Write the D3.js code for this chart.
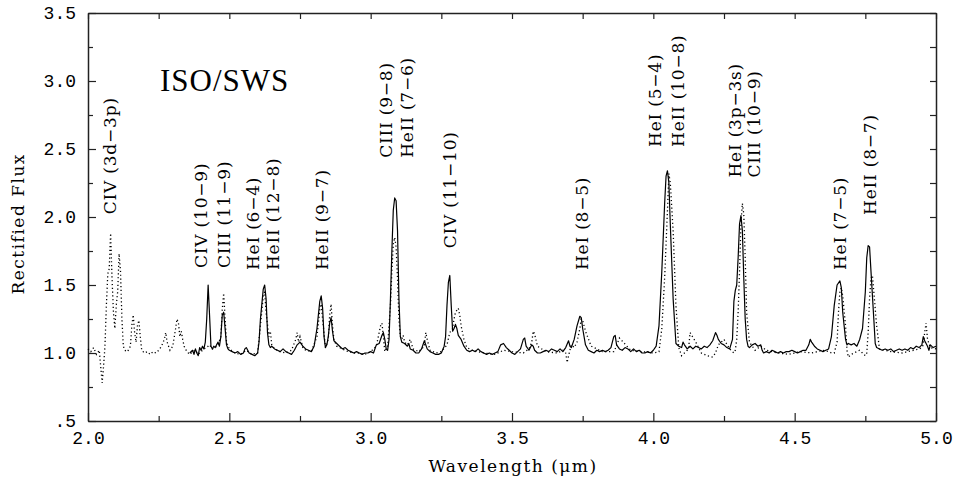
<!DOCTYPE html>
<html>
<head>
<meta charset="utf-8">
<script src="https://cdn.jsdelivr.net/npm/d3@7"></script>
<style>
  body { margin: 0; background: #fff; }
  .tick text { font-family: "Liberation Mono", monospace; }
</style>
</head>
<body>
<div id="my_dataviz"></div>
<script>
// solid spectrum (wavelength in micron, rectified flux)
const solidWave = [2.36,2.37,2.375,2.38,2.385,2.39,2.395,2.40,2.405,2.41,2.415,2.42,2.425,2.43,2.435,2.44,2.445,2.45,2.455,2.46,2.465,2.47,2.475,2.48,2.485,2.49,2.495,2.50,2.51,2.52,2.53,2.54,2.55,2.555,2.56,2.565,2.57,2.58,2.59,2.60,2.605,2.61,2.62,2.625,2.63,2.635,2.64,2.645,2.65,2.66,2.67,2.68,2.69,2.70,2.71,2.72,2.73,2.74,2.75,2.76,2.77,2.78,2.79,2.80,2.81,2.82,2.825,2.83,2.835,2.84,2.845,2.85,2.855,2.86,2.865,2.87,2.88,2.89,2.90,2.91,2.92,2.93,2.94,2.95,2.96,2.97,2.98,2.99,3.00,3.01,3.02,3.03,3.04,3.045,3.05,3.055,3.06,3.065,3.07,3.075,3.08,3.085,3.09,3.095,3.10,3.105,3.11,3.12,3.13,3.135,3.14,3.15,3.16,3.17,3.18,3.19,3.195,3.20,3.21,3.22,3.23,3.24,3.25,3.26,3.265,3.27,3.275,3.28,3.285,3.29,3.295,3.30,3.305,3.31,3.32,3.33,3.34,3.35,3.36,3.37,3.38,3.39,3.40,3.41,3.42,3.43,3.44,3.45,3.46,3.47,3.48,3.49,3.50,3.51,3.52,3.53,3.54,3.545,3.55,3.56,3.57,3.575,3.58,3.59,3.60,3.61,3.62,3.63,3.64,3.65,3.66,3.67,3.68,3.69,3.70,3.705,3.71,3.72,3.73,3.74,3.745,3.75,3.76,3.77,3.78,3.79,3.80,3.81,3.82,3.83,3.84,3.85,3.86,3.865,3.87,3.88,3.89,3.90,3.91,3.92,3.93,3.94,3.95,3.96,3.97,3.98,3.99,4.00,4.01,4.02,4.03,4.04,4.045,4.05,4.055,4.06,4.07,4.08,4.09,4.10,4.105,4.11,4.12,4.13,4.14,4.15,4.16,4.17,4.18,4.19,4.20,4.21,4.22,4.225,4.23,4.24,4.25,4.26,4.27,4.28,4.285,4.29,4.295,4.30,4.305,4.31,4.315,4.32,4.325,4.33,4.335,4.34,4.35,4.36,4.37,4.38,4.385,4.39,4.40,4.41,4.42,4.43,4.44,4.45,4.46,4.47,4.48,4.49,4.50,4.51,4.52,4.53,4.54,4.55,4.555,4.56,4.57,4.58,4.59,4.60,4.61,4.62,4.63,4.64,4.65,4.66,4.665,4.67,4.68,4.685,4.69,4.70,4.71,4.72,4.73,4.74,4.75,4.755,4.76,4.765,4.77,4.78,4.785,4.79,4.80,4.81,4.82,4.83,4.84,4.85,4.86,4.87,4.88,4.89,4.90,4.91,4.92,4.93,4.94,4.95,4.955,4.96,4.97,4.975,4.98,4.99,5.00];
const solidFlux = [1.00,1.02,0.99,1.03,1.00,0.98,1.04,1.02,1.05,1.03,1.08,1.25,1.50,1.28,1.05,1.03,1.05,1.04,1.06,1.08,1.05,1.12,1.28,1.30,1.18,1.06,1.03,1.02,1.01,1.00,1.01,0.99,1.00,1.03,1.04,1.02,1.00,0.99,0.98,1.00,1.08,1.25,1.47,1.50,1.40,1.15,1.06,1.04,1.05,1.03,1.02,1.01,1.03,1.01,1.00,0.99,1.02,1.06,1.08,1.05,1.03,1.02,1.01,1.05,1.18,1.38,1.42,1.33,1.12,1.04,1.06,1.12,1.22,1.26,1.16,1.09,1.07,1.05,1.03,1.04,1.02,1.01,1.00,1.01,1.00,0.99,1.00,1.00,1.01,1.00,1.06,1.07,1.13,1.15,1.10,1.03,1.02,1.10,1.40,1.75,2.05,2.14,2.12,1.90,1.40,1.12,1.08,1.07,1.05,1.07,1.03,1.02,1.00,1.00,1.03,1.09,1.06,1.03,1.01,1.00,0.99,0.99,1.00,1.05,1.12,1.35,1.52,1.57,1.35,1.16,1.18,1.21,1.18,1.13,1.10,1.05,1.02,1.01,1.02,1.01,1.03,1.01,1.00,0.99,1.00,0.99,1.00,1.01,1.06,1.07,1.04,1.02,1.00,0.99,1.01,1.03,1.10,1.11,1.05,1.02,1.06,1.05,1.02,1.00,1.00,1.01,1.02,1.01,1.03,1.02,1.01,1.03,1.01,1.04,1.09,1.05,1.04,1.10,1.20,1.27,1.26,1.18,1.06,1.02,1.01,1.00,1.02,1.01,1.02,1.01,1.02,1.04,1.12,1.13,1.06,1.03,1.02,1.04,1.03,1.01,1.03,1.01,1.02,1.00,1.00,1.01,1.00,1.02,1.05,1.20,1.60,2.10,2.30,2.34,2.25,1.95,1.40,1.07,1.05,1.04,1.08,1.06,1.03,1.05,1.03,1.05,1.04,1.03,1.05,1.04,1.06,1.09,1.15,1.13,1.10,1.07,1.06,1.04,1.03,1.10,1.38,1.46,1.50,1.70,1.95,2.01,1.90,1.55,1.25,1.10,1.05,1.04,1.06,1.07,1.05,1.06,1.02,1.00,1.01,1.00,1.02,1.01,1.00,1.01,1.00,1.01,1.01,1.02,1.01,1.00,1.01,1.02,1.02,1.06,1.10,1.08,1.05,1.03,1.02,1.01,1.02,1.03,1.12,1.35,1.50,1.53,1.48,1.30,1.10,1.06,1.07,1.06,1.07,1.05,1.10,1.18,1.45,1.70,1.79,1.78,1.60,1.25,1.07,1.04,1.03,1.02,1.03,1.02,1.03,1.01,1.02,1.03,1.02,1.03,1.02,1.04,1.03,1.05,1.04,1.06,1.12,1.09,1.05,1.02,1.06,1.04,1.05];

// dotted spectrum
const dottedWave = [2.00,2.01,2.02,2.03,2.04,2.045,2.05,2.055,2.06,2.065,2.07,2.075,2.08,2.085,2.09,2.095,2.10,2.105,2.11,2.115,2.12,2.125,2.13,2.14,2.15,2.155,2.16,2.165,2.17,2.175,2.18,2.185,2.19,2.20,2.21,2.22,2.23,2.24,2.25,2.26,2.27,2.275,2.28,2.29,2.30,2.31,2.315,2.32,2.325,2.33,2.335,2.34,2.35,2.36,2.37,2.38,2.39,2.40,2.41,2.42,2.43,2.44,2.45,2.46,2.47,2.475,2.48,2.485,2.49,2.50,2.52,2.54,2.56,2.58,2.60,2.61,2.62,2.625,2.63,2.64,2.645,2.65,2.66,2.68,2.70,2.72,2.735,2.74,2.745,2.75,2.755,2.76,2.77,2.79,2.81,2.82,2.825,2.83,2.84,2.85,2.855,2.86,2.865,2.87,2.88,2.90,2.92,2.94,2.96,2.98,3.00,3.02,3.035,3.04,3.045,3.05,3.06,3.07,3.075,3.08,3.085,3.09,3.095,3.10,3.105,3.11,3.115,3.12,3.13,3.14,3.15,3.17,3.19,3.195,3.20,3.21,3.23,3.25,3.27,3.28,3.29,3.295,3.30,3.31,3.315,3.32,3.33,3.34,3.36,3.40,3.44,3.47,3.50,3.54,3.56,3.57,3.575,3.58,3.59,3.62,3.66,3.68,3.69,3.695,3.70,3.71,3.72,3.73,3.74,3.745,3.75,3.76,3.78,3.82,3.86,3.865,3.88,3.92,3.96,4.00,4.02,4.03,4.04,4.05,4.055,4.06,4.07,4.08,4.09,4.10,4.12,4.125,4.13,4.15,4.17,4.19,4.21,4.22,4.23,4.25,4.27,4.285,4.29,4.295,4.30,4.305,4.31,4.315,4.32,4.325,4.33,4.34,4.36,4.38,4.40,4.44,4.48,4.52,4.56,4.60,4.62,4.63,4.64,4.65,4.655,4.66,4.665,4.67,4.68,4.685,4.69,4.70,4.72,4.73,4.74,4.75,4.755,4.76,4.765,4.77,4.775,4.78,4.79,4.80,4.84,4.88,4.92,4.94,4.95,4.955,4.96,4.965,4.97,4.98,5.00];
const dottedFlux = [1.03,1.01,1.04,0.99,1.02,0.90,0.78,0.90,1.05,1.35,1.58,1.62,1.88,1.55,1.30,1.18,1.35,1.45,1.73,1.60,1.25,1.05,1.02,1.01,1.05,1.20,1.28,1.15,1.08,1.20,1.24,1.12,1.02,1.00,1.01,0.99,1.01,1.00,1.02,1.05,1.10,1.15,1.08,1.02,1.05,1.18,1.25,1.22,1.12,1.16,1.10,1.05,1.01,0.99,1.01,1.02,0.99,1.01,1.03,1.04,1.06,1.03,1.04,1.06,1.12,1.32,1.44,1.25,1.08,1.03,1.00,0.99,1.02,0.99,1.00,1.20,1.42,1.45,1.30,1.12,1.16,1.06,1.03,1.01,1.00,1.02,1.10,1.15,1.08,1.12,1.08,1.04,1.02,1.01,1.12,1.32,1.36,1.25,1.04,1.10,1.28,1.36,1.20,1.10,1.05,1.03,1.01,1.00,1.00,0.99,1.01,1.05,1.20,1.22,1.12,1.01,1.05,1.35,1.60,1.80,1.85,1.78,1.55,1.25,1.12,1.10,1.13,1.08,1.06,1.10,1.03,1.01,1.05,1.15,1.10,1.02,1.00,1.01,1.06,1.15,1.18,1.25,1.30,1.33,1.28,1.20,1.10,1.04,1.02,1.00,0.99,1.02,1.01,1.00,1.03,1.08,1.16,1.14,1.05,1.01,1.00,1.02,1.00,0.93,0.98,1.06,1.04,1.08,1.18,1.25,1.24,1.16,1.05,1.01,1.01,1.03,1.11,1.02,1.01,1.00,1.01,1.18,1.55,2.05,2.32,2.25,1.90,1.35,1.04,0.98,1.02,1.04,1.15,1.08,1.00,0.98,0.97,1.00,1.06,1.10,1.03,1.00,1.02,1.10,1.30,1.60,1.95,2.10,2.02,1.70,1.30,1.08,1.02,1.05,1.02,1.00,0.99,1.01,1.00,1.02,1.01,1.00,1.00,1.08,1.30,1.45,1.48,1.42,1.20,1.02,0.97,0.99,1.01,1.02,1.00,0.98,1.00,1.15,1.40,1.55,1.57,1.45,1.20,1.03,1.01,1.00,1.02,1.03,1.04,1.06,1.15,1.22,1.10,1.04,1.03,1.03];

// line identifications: text, wavelength of the label column, flux where the text starts
const labelText = ["CIV (3d\u22123p)","CIV (10\u22129)","CIII (11\u22129)","HeI (6\u22124)","HeII (12\u22128)","HeII (9\u22127)","CIII (9\u22128)","HeII (7\u22126)","CIV (11\u221210)","HeI (8\u22125)","HeI (5\u22124)","HeII (10\u22128)","HeI (3p\u22123s)","CIII (10\u22129)","HeI (7\u22125)","HeII (8\u22127)"];
const labelWave = [2.078,2.400,2.481,2.584,2.654,2.828,3.054,3.128,3.281,3.747,4.006,4.087,4.289,4.356,4.660,4.766];
const labelFlux = [2.02,1.625,1.625,1.61,1.61,1.61,2.435,2.435,1.77,1.61,2.515,2.515,2.29,2.29,1.61,2.015];

// tick values
const xMajor = [2.0,2.5,3.0,3.5,4.0,4.5,5.0];
const xMinor = [2.25,2.75,3.25,3.75,4.25,4.75];
const yMajor = [0.5,1.0,1.5,2.0,2.5,3.0,3.5];
const yMinor = [0.75,1.25,1.75,2.25,2.75,3.25];

const W = 955, H = 480;
const svg = d3.select("#my_dataviz")
  .append("svg")
    .attr("width", W)
    .attr("height", H);

const x = d3.scaleLinear().domain([2, 5]).range([88, 936]);
const y = d3.scaleLinear().domain([0.5, 3.5]).range([421, 13]);

const fmtY = d => d === 0.5 ? ".5" : d.toFixed(1);

// axes with inward ticks on all four sides
function styleAxis(g) {
  g.select(".domain").attr("stroke", "#222").attr("stroke-width", 1.5);
  g.selectAll(".tick line").attr("stroke", "#222").attr("stroke-width", 1.2);
  g.selectAll(".tick text").attr("font-size", "18px").attr("fill", "#000");
}
svg.append("g").attr("transform", `translate(0,${y(0.5)})`)
  .call(d3.axisBottom(x).tickValues(xMajor).tickSize(-8).tickSizeOuter(0).tickPadding(10).tickFormat(d3.format(".1f")))
  .call(styleAxis);
svg.append("g").attr("transform", `translate(0,${y(0.5)})`)
  .call(d3.axisBottom(x).tickValues(xMinor).tickSize(-5).tickFormat(""))
  .call(g => g.select(".domain").remove()).call(styleAxis);
svg.append("g").attr("transform", `translate(0,${y(3.5)})`)
  .call(d3.axisTop(x).tickValues(xMajor.concat(xMinor)).tickSize(-6).tickSizeOuter(0).tickFormat(""))
  .call(styleAxis);
svg.append("g").attr("transform", `translate(${x(2)},0)`)
  .call(d3.axisLeft(y).tickValues(yMajor).tickSize(-8).tickSizeOuter(0).tickPadding(12).tickFormat(fmtY))
  .call(styleAxis);
svg.append("g").attr("transform", `translate(${x(2)},0)`)
  .call(d3.axisLeft(y).tickValues(yMinor).tickSize(-5).tickFormat(""))
  .call(g => g.select(".domain").remove()).call(styleAxis);
svg.append("g").attr("transform", `translate(${x(5)},0)`)
  .call(d3.axisRight(y).tickValues(yMajor.concat(yMinor)).tickSize(-6).tickSizeOuter(0).tickFormat(""))
  .call(styleAxis);

// spectra
const line = d3.line().x(d => x(d[0])).y(d => y(d[1]));
svg.append("path")
  .datum(dottedWave.map((w, i) => [w, dottedFlux[i]]))
  .attr("fill", "none").attr("stroke", "#000").attr("stroke-width", 1.3)
  .attr("stroke-dasharray", "1.2,2.6")
  .attr("d", line);
svg.append("path")
  .datum(solidWave.map((w, i) => [w, solidFlux[i]]))
  .attr("fill", "none").attr("stroke", "#000").attr("stroke-width", 1.2)
  .attr("stroke-linejoin", "round")
  .attr("d", line);

// line labels, reading upwards
svg.selectAll(".lbl")
  .data(labelText)
  .join("text")
    .attr("class", "lbl")
    .attr("transform", (d, i) => `translate(${x(labelWave[i])},${y(labelFlux[i])}) rotate(-90)`)
    .attr("dy", "0.36em")
    .attr("font-family", "DejaVu Serif")
    .attr("font-size", "17px")
    .attr("letter-spacing", "0.8px")
    .text(d => d);

// instrument tag
svg.append("text").attr("x", 160).attr("y", 91).text("ISO/SWS")
  .attr("font-family", "Liberation Serif").attr("font-size", "31px").attr("letter-spacing", "1px");

// axis titles
svg.append("text").attr("transform", `translate(24,${y(1.95)}) rotate(-90)`)
  .attr("text-anchor", "middle").text("Rectified Flux")
  .attr("font-family", "DejaVu Serif").attr("font-size", "17px").attr("letter-spacing", "1.5px");
svg.append("text").attr("x", 513).attr("y", 472)
  .attr("text-anchor", "middle").text("Wavelength (\u03bcm)")
  .attr("font-family", "DejaVu Serif").attr("font-size", "17px").attr("letter-spacing", "1.5px");
</script>
</body>
</html>
